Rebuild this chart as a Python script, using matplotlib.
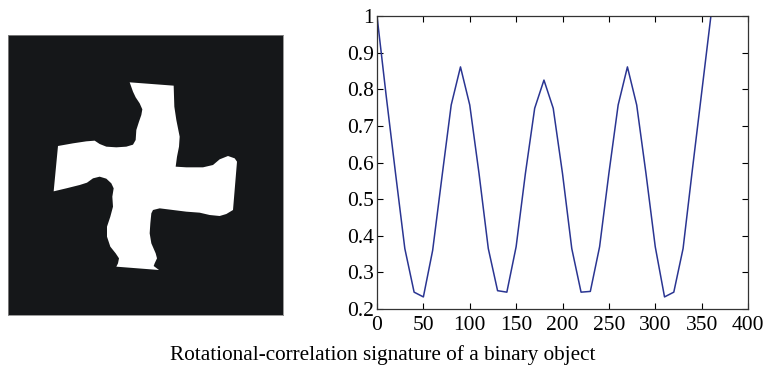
import matplotlib
matplotlib.use("Agg")
import matplotlib.pyplot as plt

plt.rcParams['font.family'] = ['Liberation Serif', 'DejaVu Serif']

# rotation angle (deg) and correlation value
angles = [0, 10, 20, 30, 40, 50, 60, 70, 80, 90, 100, 110, 120, 130, 140, 150,
          160, 170, 180, 190, 200, 210, 220, 230, 240, 250, 260, 270, 280, 290,
          300, 310, 320, 330, 340, 350, 360]
correlation = [1.0, 0.78, 0.57, 0.365, 0.246, 0.233, 0.36, 0.56, 0.757, 0.861,
               0.757, 0.57, 0.365, 0.25, 0.246, 0.37, 0.57, 0.748, 0.825, 0.748,
               0.57, 0.365, 0.246, 0.248, 0.37, 0.57, 0.757, 0.861, 0.757, 0.57,
               0.37, 0.233, 0.246, 0.365, 0.58, 0.79, 1.0]

x_ticks = [0, 50, 100, 150, 200, 250, 300, 350, 400]
y_ticks = [0.2, 0.3, 0.4, 0.5, 0.6, 0.7, 0.8, 0.9, 1.0]
y_tick_labels = ['0.2', '0.3', '0.4', '0.5', '0.6', '0.7', '0.8', '0.9', '1']

# outline of the white binary object (image pixel coords)
shape_x = [390, 522, 524, 530, 540, 538, 532, 528, 560, 610, 640, 660, 685, 705,
           712, 700, 680, 660, 630, 600, 560, 520, 480, 460, 455, 452, 450, 455,
           468, 472, 465, 462, 478, 350, 355, 358, 348, 332, 322, 322, 332, 340,
           338, 342, 335, 320, 300, 280, 262, 240, 200, 162, 175, 220, 260, 285,
           300, 320, 350, 380, 400, 408, 410, 418, 425, 428, 420, 408, 400]
shape_y = [187, 197, 260, 300, 350, 380, 410, 440, 442, 442, 435, 418, 408, 415,
           425, 570, 582, 588, 585, 578, 575, 570, 565, 570, 580, 610, 640, 670,
           700, 715, 730, 738, 750, 740, 730, 715, 700, 680, 650, 620, 590, 560,
           530, 505, 490, 476, 470, 475, 488, 495, 505, 514, 378, 370, 364, 362,
           372, 380, 382, 380, 374, 360, 330, 305, 285, 268, 250, 232, 215]

fig = plt.figure(figsize=(7.66, 3.67), dpi=100)

# binary object image
ax_img = fig.add_axes([8 / 766, 52 / 367, 275 / 766, 280 / 367])
ax_img.set_facecolor('#151719')
ax_img.fill(shape_x, shape_y, color='white', lw=0)
ax_img.set_xlim(25, 850)
ax_img.set_ylim(885, 45)
ax_img.set_xticks([])
ax_img.set_yticks([])
for s in ax_img.spines.values():
    s.set_color('#888888')
    s.set_linewidth(0.6)

# signature plot
ax = fig.add_axes([377 / 766, 58 / 367, 371 / 766, 293 / 367])
ax.plot(angles, correlation, color='#2a3592', lw=1.1)
ax.set_xlim(0, 400)
ax.set_ylim(0.2, 1.0)
ax.set_xticks(x_ticks)
ax.set_yticks(y_ticks)
ax.set_yticklabels(y_tick_labels)
ax.tick_params(direction='in', top=True, right=True, labelsize=15.5,
               length=4, width=0.8)
ax.tick_params(axis='x', pad=5)
ax.tick_params(axis='y', pad=2)
for s in ax.spines.values():
    s.set_linewidth(0.9)
    s.set_color('#333333')

fig.text(383 / 766, 1 - 355 / 367,
         'Rotational-correlation signature of a binary object',
         ha='center', va='center', fontsize=15.3)

fig.savefig('out.png', dpi=100)
